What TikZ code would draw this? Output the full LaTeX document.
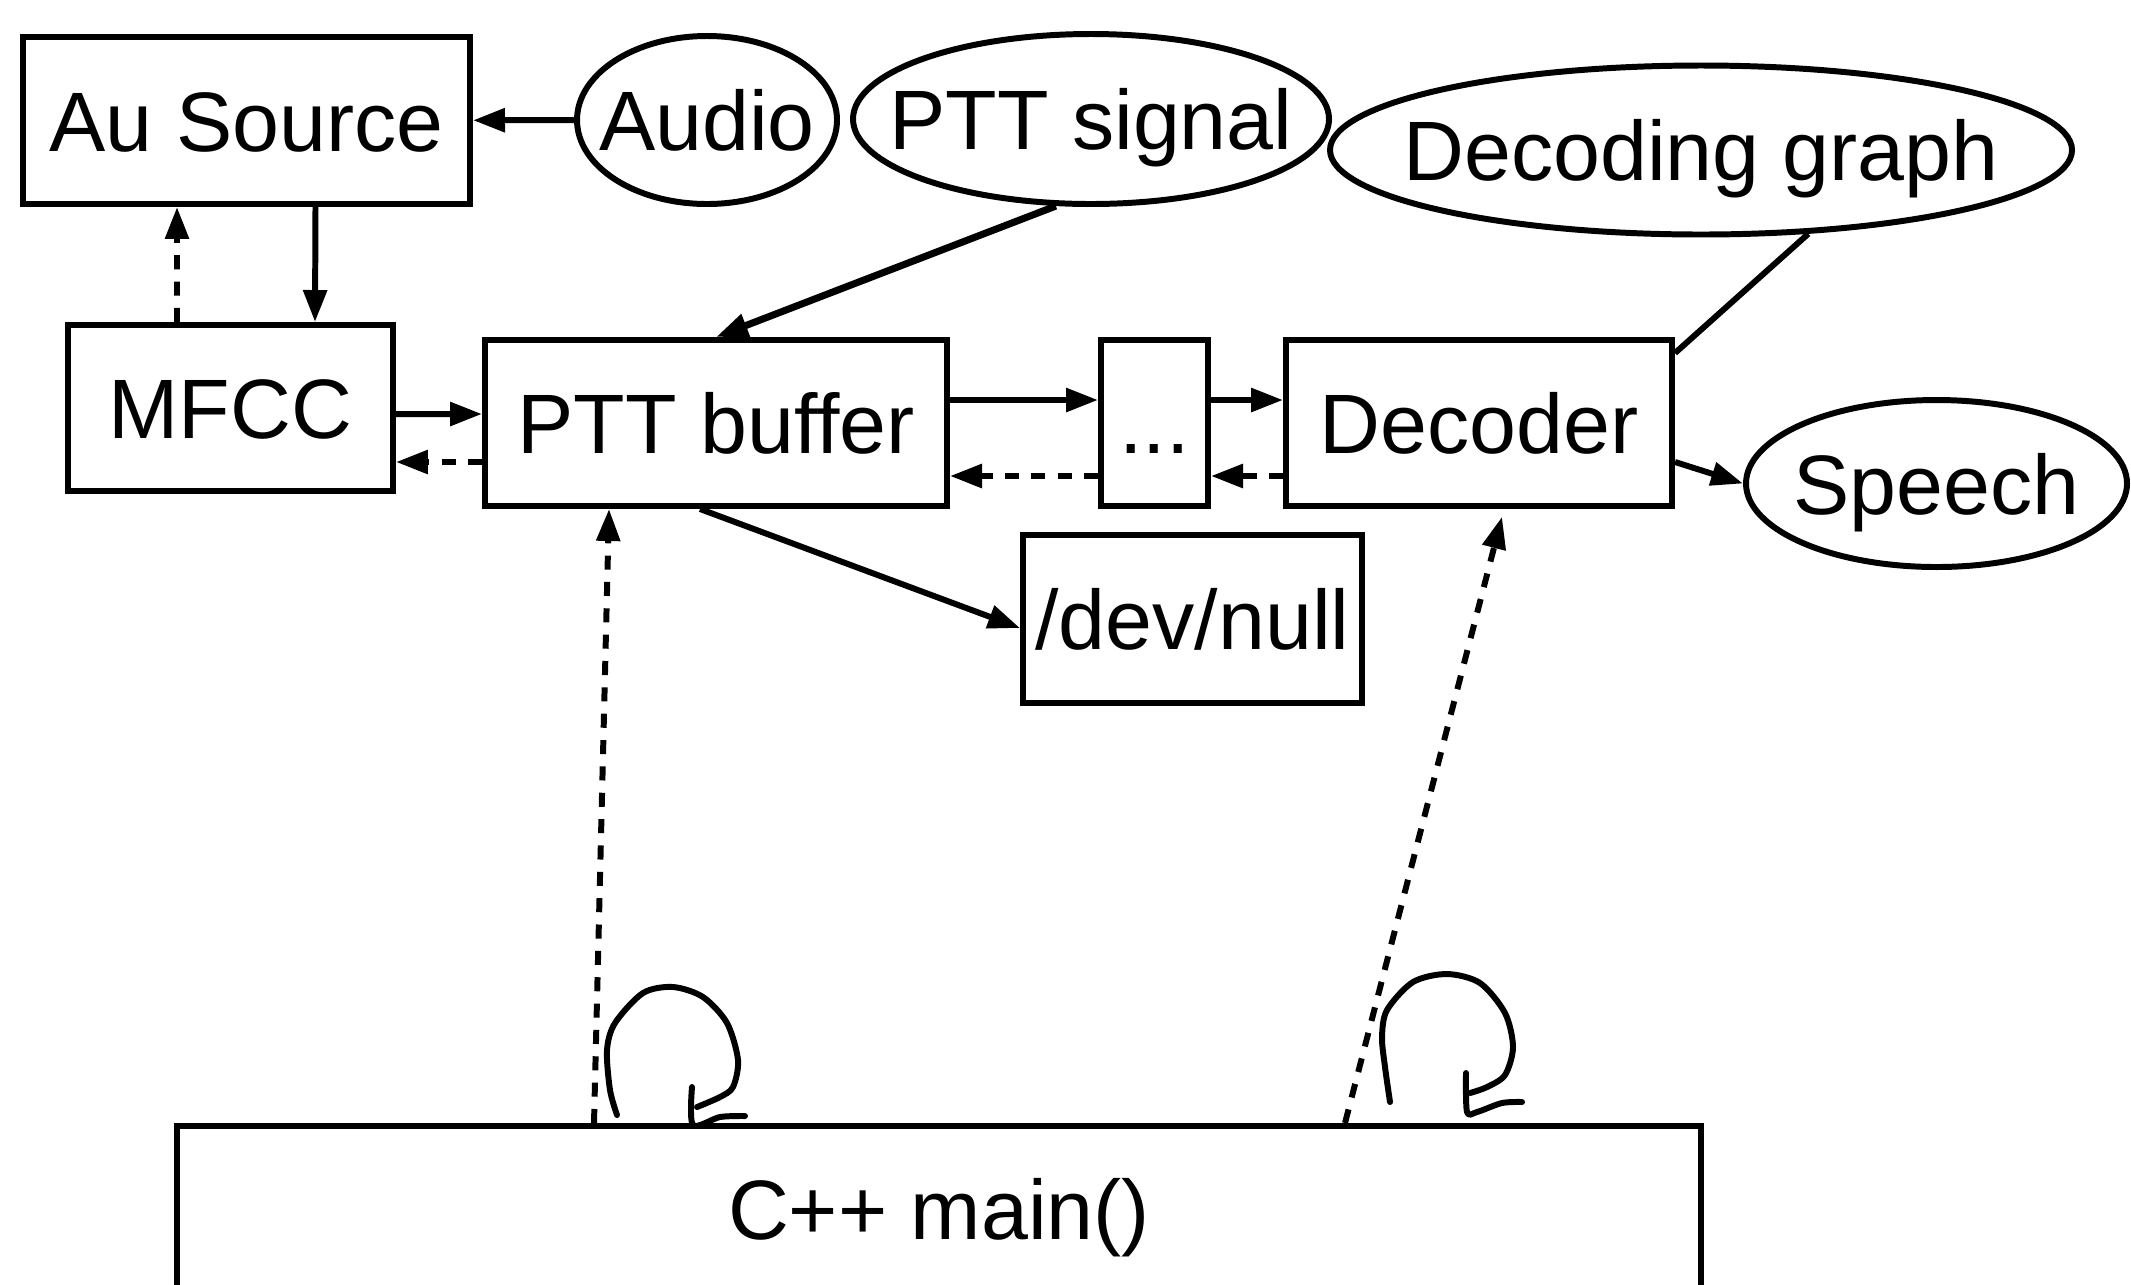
\documentclass[tikz,border=0pt]{standalone}
\usepackage{fontspec}
\setmainfont{Liberation Sans}
\usetikzlibrary{arrows.meta,shapes.geometric}

\begin{document}
\begin{tikzpicture}[
    line width=1.7pt,
    font=\fontsize{24}{28}\selectfont,
    every node/.style={text height=17.5pt,text depth=0pt},
    box/.style={shape=rectangle,draw=black,inner sep=0pt,minimum height=1.66cm},
    blob/.style={shape=ellipse,draw=black,inner xsep=-0.5cm,inner ysep=0pt},
    arr/.style={-{Triangle[length=0.32cm,width=0.23cm]}},
    back/.style={arr,dash pattern=on 4pt off 3.5pt},
    loopy/.style={line cap=round,line join=round}
  ]
  \useasboundingbox (0,0) rectangle (21.31,-12.84);

  \node[box,minimum width=4.47cm,minimum height=1.67cm] (ausrc) at (2.465,-1.205) {Au Source};
  \node[blob,minimum width=2.60cm,minimum height=1.68cm] (audio) at (7.07,-1.20) {Audio};
  \node[blob,minimum width=4.76cm,minimum height=1.70cm] (pttsig) at (10.91,-1.19) {PTT signal};
  \node[blob,minimum width=7.42cm,minimum height=1.69cm] (dgraph) at (17.01,-1.50) {Decoding graph};

  \node[box,minimum width=3.25cm] (mfcc) at (2.305,-4.08) {MFCC};
  \node[box,minimum width=4.62cm] (pttbuf) at (7.16,-4.23) {PTT buffer};
  \node[box,minimum width=1.07cm] (dots) at (11.545,-4.23) {...};
  \node[box,minimum width=3.86cm] (decoder) at (14.79,-4.23) {Decoder};
  \node[blob,minimum width=3.81cm,minimum height=1.67cm] (speech) at (19.365,-4.835) {Speech};
  \node[box,minimum width=3.39cm,minimum height=1.68cm] (devnull) at (11.925,-6.19) {/dev/null};

  \node[box,minimum width=15.24cm] (main) at (9.39,-12.09) {C++ main()};

  \path [arr] (audio) edge (ausrc);
  \path [arr] ([xshift=0.69cm]ausrc.south) edge ([xshift=0.845cm]mfcc.north);
  \path [back] ([xshift=-0.535cm]mfcc.north) edge ([xshift=-0.695cm]ausrc.south);
  \path [arr] ([yshift=-0.06cm]mfcc.east) edge ([yshift=0.09cm]pttbuf.west);
  \path [back] ([yshift=-0.39cm]pttbuf.west) edge ([yshift=-0.54cm]mfcc.east);
  \path [arr,line width=2pt] (pttsig.-112) edge (pttbuf.north);
  \path [arr] ([yshift=0.23cm]pttbuf.east) edge ([yshift=0.23cm]dots.west);
  \path [back] ([yshift=-0.53cm]dots.west) edge ([yshift=-0.53cm]pttbuf.east);
  \path [arr] ([yshift=0.23cm]dots.east) edge ([yshift=0.23cm]decoder.west);
  \path [back] ([yshift=-0.53cm]decoder.west) edge ([yshift=-0.53cm]dots.east);
  \path [-] (dgraph.-38) edge ([yshift=-0.16cm]decoder.north east);
  \path [arr] ([yshift=-0.39cm]decoder.east) edge (speech.west);
  \path [arr] ([xshift=-0.16cm]pttbuf.south) edge ([yshift=-0.09cm]devnull.west);
  \path [back] ([xshift=-3.45cm]main.north) edge ([xshift=-1.07cm]pttbuf.south);
  \path [back,shorten >=0.08cm] ([xshift=4.06cm]main.north) edge ([xshift=0.25cm]decoder.south);

  % hand drawn loops over main()
  \draw[loopy] plot[smooth] coordinates {(6.17,-11.15) (6.10,-10.90) (6.07,-10.50) (6.15,-10.23) (6.43,-9.93) (6.73,-9.87) (7.03,-9.97) (7.27,-10.23) (7.38,-10.60) (7.33,-10.87) (7.20,-10.97) (6.97,-11.07)};
  \draw[loopy] plot[smooth] coordinates {(6.92,-10.87) (6.93,-11.25) (7.20,-11.17) (7.45,-11.16)};
  \draw[loopy] plot[smooth] coordinates {(13.90,-11.02) (13.85,-10.67) (13.82,-10.37) (13.87,-10.10) (14.13,-9.82) (14.47,-9.74) (14.80,-9.83) (15.05,-10.13) (15.13,-10.47) (15.05,-10.75) (14.87,-10.87) (14.70,-10.93)};
  \draw[loopy] plot[smooth] coordinates {(14.66,-10.73) (14.67,-11.12) (14.77,-11.12) (15.02,-11.03) (15.22,-11.02)};
\end{tikzpicture}
\end{document}
